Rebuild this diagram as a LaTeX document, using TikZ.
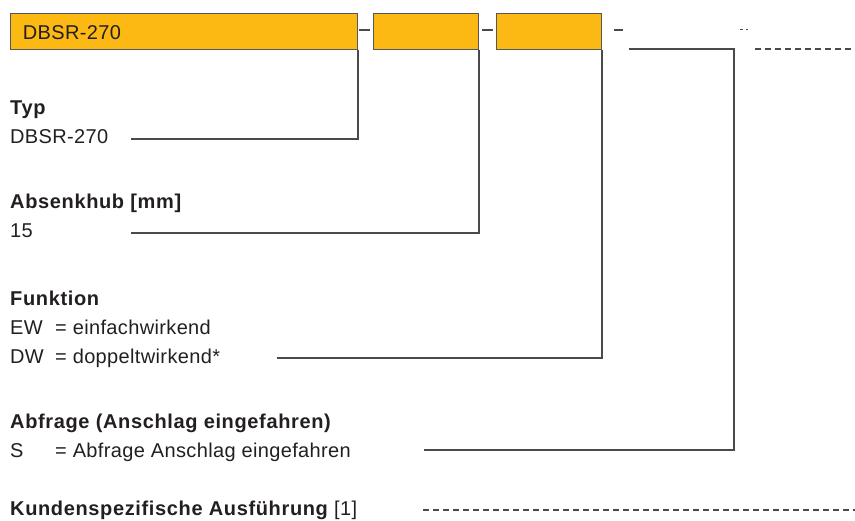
\documentclass[tikz,border=0pt]{standalone}
\usepackage{fontspec}
\setmainfont{Liberation Sans}[LetterSpace=1.8, BoldFeatures={LetterSpace=3.2}]
\definecolor{festo}{HTML}{FDB913}
\definecolor{boxline}{HTML}{55565A}
\definecolor{conn}{HTML}{4A4A4A}
\definecolor{txt}{HTML}{231F20}
\tikzset{
  obox/.style={draw=boxline, line width=1pt, fill=festo, inner sep=0pt, anchor=north west, minimum height=36pt},
  lbl/.style={anchor=base west, inner sep=0pt, text=txt, font=\fontsize{20}{24}\selectfont},
  head/.style={lbl, font=\fontsize{20}{24}\selectfont\bfseries},
  conline/.style={draw=conn, line width=1.1pt},
  dashline/.style={draw=conn, line width=1.1pt, dash pattern=on 6pt off 4pt},
  sep/.style={draw=conn, line width=1.1pt}
}
\begin{document}
\begin{tikzpicture}[x=1pt,y=-1pt]
\useasboundingbox (0,0) rectangle (855,521);
% boxes
\node[obox, minimum width=347pt] (b1) at (10,13) {};
\node[obox, minimum width=105pt] (b2) at (373,13) {};
\node[obox, minimum width=105pt] (b3) at (496,13) {};
\node[lbl] (bt) at (22.7,39.3) {DBSR-270};
% separators
\coordinate (s1a) at (359,30); \coordinate (s1b) at (370,30);
\coordinate (s2a) at (482,30); \coordinate (s2b) at (493,30);
\coordinate (s3a) at (614,30); \coordinate (s3b) at (623,30);
\coordinate (s4a) at (740,30); \coordinate (s4b) at (749,30);
\draw[sep] (s1a) -- (s1b);
\draw[sep] (s2a) -- (s2b);
\draw[sep] (s3a) -- (s3b);
\draw[draw=conn, line width=1pt, dash pattern=on 2.5pt off 3pt] (s4a) -- (s4b);
% labels
\node[head] (h1) at (10,115) {Typ};
\node[lbl] (l1) at (10,144) {DBSR-270};
\node[head] (h2) at (10,209) {Absenkhub [mm]};
\node[lbl] (l2) at (10,238) {15};
\node[head] (h3) at (10,306) {Funktion};
\node[lbl] (l3a) at (10,335) {EW};
\node[lbl] (l3b) at (55,335) {= einfachwirkend};
\node[lbl] (l3c) at (10,364) {DW};
\node[lbl] (l3d) at (55,364) {= doppeltwirkend*};
\node[head] (h4) at (10,429) {Abfrage (Anschlag eingefahren)};
\node[lbl] (l4a) at (10,458) {S};
\node[lbl] (l4b) at (55,458) {= Abfrage Anschlag eingefahren};
\node[lbl] (h5) at (10,515) {\bfseries Kundenspezifische Ausführung \mdseries[1]};
% connector end points
\coordinate (c1) at (131,139);
\coordinate (c2) at (131,233);
\coordinate (c3) at (277,358);
\coordinate (d1) at (629,49);
\coordinate (d2) at (734,49);
\coordinate (c4) at (424,450);
\coordinate (e1) at (755,49);
\coordinate (e2) at (855,49);
\coordinate (f1) at (423,510);
\coordinate (f2) at (855,510);
% connectors
\draw[conline] (b1.south east) |- (c1);
\draw[conline] (b2.south east) |- (c2);
\draw[conline] (b3.south east) |- (c3);
\draw[conline] (d1) -- (d2) |- (c4);
\draw[dashline] (e1) -- (e2);
\draw[dashline] (f1) -- (f2);
\end{tikzpicture}
\end{document}
